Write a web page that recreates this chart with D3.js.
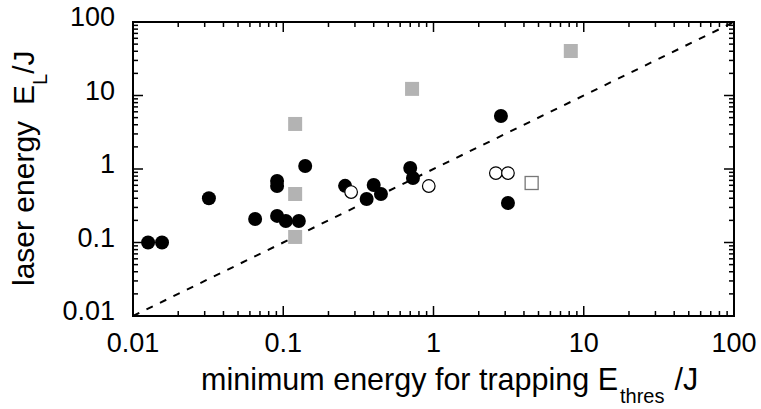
<!DOCTYPE html>
<html lang="en">
<head>
<meta charset="utf-8">
<title>Laser energy vs. trapping threshold</title>
<style>
  html, body { margin: 0; padding: 0; background: #fff; }
  svg text { font-family: 'Liberation Sans', Arial, Helvetica, sans-serif; fill: #000; }
  .frame { fill: none; stroke: #000; stroke-width: 2; }
  .tick { stroke: #000; stroke-width: 1.5; }
</style>
</head>
<body>
<svg width="761" height="409"></svg>
<script src="https://cdn.jsdelivr.net/npm/d3@7"></script>
<script>
// data
var filledX = [0.0126, 0.0156, 0.032, 0.065, 0.091, 0.091, 0.091, 0.104, 0.127, 0.14,
               0.258, 0.359, 0.40, 0.447, 0.70, 0.73, 2.81, 3.13];
var filledY = [0.1, 0.1, 0.40, 0.209, 0.687, 0.587, 0.23, 0.196, 0.196, 1.1,
               0.59, 0.39, 0.605, 0.457, 1.03, 0.755, 5.26, 0.344];
var openX = [0.283, 0.93, 2.6, 3.13];
var openY = [0.486, 0.587, 0.88, 0.88];
var graySqX = [0.12, 0.12, 0.12, 0.72, 8.2];
var graySqY = [4.1, 0.457, 0.119, 12.3, 40.3];
var openSqX = [4.5];
var openSqY = [0.645];
var majorTicks = [0.01, 0.1, 1, 10, 100];
var tickLabels = ["0.01", "0.1", "1", "10", "100"];

var svg = d3.select("svg"),
    margin = {top: 22, right: 27, bottom: 93, left: 133},
    width = +svg.attr("width") - margin.left - margin.right,
    height = +svg.attr("height") - margin.top - margin.bottom;

var x = d3.scaleLog().domain([0.01, 100]).range([0, width]),
    y = d3.scaleLog().domain([0.01, 100]).range([height, 0]);

var g = svg.append("g")
    .attr("transform", "translate(" + margin.left + "," + margin.top + ")");

// minor ticks 2..9 in each decade
var minorTicks = [];
majorTicks.slice(0, -1).forEach(function(m) {
  for (var k = 2; k <= 9; k++) minorTicks.push(m * k);
});

var allTicks = majorTicks.map(function(v) { return {v: v, len: 10}; })
    .concat(minorTicks.map(function(v) { return {v: v, len: 5}; }));

// inward ticks on all four sides
g.selectAll(".tb").data(allTicks).enter().append("line")
    .attr("class", "tick")
    .attr("x1", function(d) { return x(d.v); }).attr("x2", function(d) { return x(d.v); })
    .attr("y1", height).attr("y2", function(d) { return height - d.len; });
g.selectAll(".tt").data(allTicks).enter().append("line")
    .attr("class", "tick")
    .attr("x1", function(d) { return x(d.v); }).attr("x2", function(d) { return x(d.v); })
    .attr("y1", 0).attr("y2", function(d) { return d.len; });
g.selectAll(".tl").data(allTicks).enter().append("line")
    .attr("class", "tick")
    .attr("y1", function(d) { return y(d.v); }).attr("y2", function(d) { return y(d.v); })
    .attr("x1", 0).attr("x2", function(d) { return d.len; });
g.selectAll(".tr").data(allTicks).enter().append("line")
    .attr("class", "tick")
    .attr("y1", function(d) { return y(d.v); }).attr("y2", function(d) { return y(d.v); })
    .attr("x1", width).attr("x2", function(d) { return width - d.len; });

g.append("rect").attr("class", "frame")
    .attr("x", 0).attr("y", 0).attr("width", width).attr("height", height);

// tick labels
g.selectAll(".xl").data(majorTicks).enter().append("text")
    .attr("x", function(d) { return x(d); })
    .attr("y", height + 36)
    .attr("text-anchor", "middle")
    .style("font-size", "27px")
    .text(function(d, i) { return tickLabels[i]; });
g.selectAll(".yl").data(majorTicks).enter().append("text")
    .attr("x", -18)
    .attr("y", function(d) { return y(d) + 4; })
    .attr("text-anchor", "end")
    .style("font-size", "27px")
    .text(function(d, i) { return tickLabels[i]; });

// y = x reference line
g.append("line")
    .attr("x1", x(0.01)).attr("y1", y(0.01))
    .attr("x2", x(100)).attr("y2", y(100))
    .attr("stroke", "#000").attr("stroke-width", 2)
    .attr("stroke-dasharray", "7,8");

// gray squares
g.selectAll(".gsq").data(graySqX).enter().append("rect")
    .attr("x", function(d) { return x(d) - 7; })
    .attr("y", function(d, i) { return y(graySqY[i]) - 7; })
    .attr("width", 14).attr("height", 14)
    .attr("fill", "#b3b3b3");

// open square
g.selectAll(".osq").data(openSqX).enter().append("rect")
    .attr("x", function(d) { return x(d) - 6.5; })
    .attr("y", function(d, i) { return y(openSqY[i]) - 6.5; })
    .attr("width", 13).attr("height", 13)
    .attr("fill", "#fff").attr("stroke", "#777").attr("stroke-width", 1.3);

// filled circles
g.selectAll(".fc").data(filledX).enter().append("circle")
    .attr("cx", function(d) { return x(d); })
    .attr("cy", function(d, i) { return y(filledY[i]); })
    .attr("r", 7)
    .attr("fill", "#000");

// open circles
g.selectAll(".oc").data(openX).enter().append("circle")
    .attr("cx", function(d) { return x(d); })
    .attr("cy", function(d, i) { return y(openY[i]); })
    .attr("r", 6.3)
    .attr("fill", "#fff").attr("stroke", "#000").attr("stroke-width", 1.2);

// axis titles
var xt = svg.append("text")
    .attr("x", 201).attr("y", 390)
    .style("font-size", "30.5px");
xt.append("tspan").text("minimum energy for trapping E");
xt.append("tspan").attr("dx", 2).attr("dy", 13).style("font-size", "20px").text("thres");
xt.append("tspan").attr("dx", 10).attr("dy", -13).text("/J");

var yt = svg.append("text")
    .attr("transform", "translate(34,286) rotate(-90)")
    .style("font-size", "30px");
yt.append("tspan").text("laser energy");
yt.append("tspan").attr("dx", 16).text("E");
yt.append("tspan").attr("dy", 13).style("font-size", "20px").text("L");
yt.append("tspan").attr("dy", -13).text("/J");
</script>
</body>
</html>
